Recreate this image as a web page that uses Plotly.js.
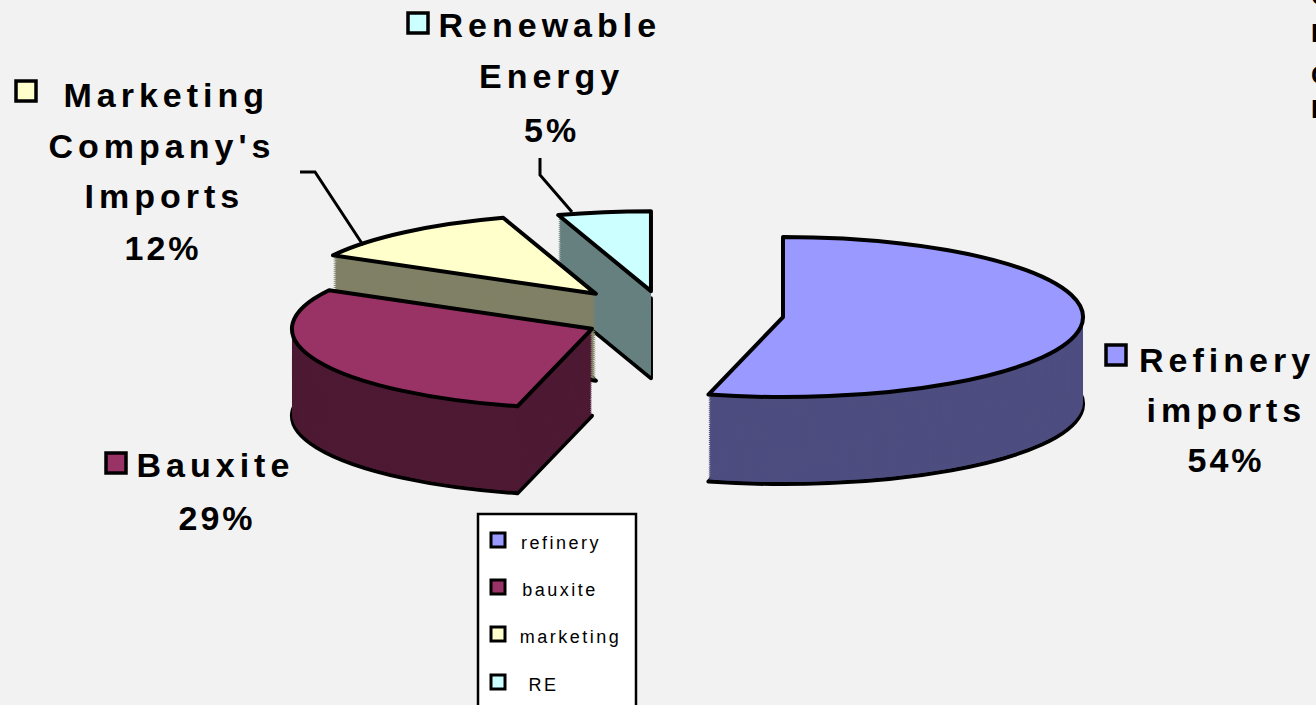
<!DOCTYPE html>
<html><head><meta charset="utf-8">
<script src="https://cdn.plot.ly/plotly-3.0.1.min.js"></script>
<style>html,body{margin:0;padding:0;background:#f2f2f2;overflow:hidden}#chart{width:1316px;height:705px;}</style>
</head><body><div id="chart"></div>
<script>
// ---- data ----
const categories = ['refinery', 'bauxite', 'marketing', 'RE'];
const values = [54, 29, 12, 5];
const labelLines = [['Refinery', 'imports'], ['Bauxite'], ['Marketing', "Company's", 'Imports'], ['Renewable', 'Energy']];
const topColors = ['#9999FF', '#993366', '#FFFFCC', '#CCFFFF'];
const sideColors = ['#4D4D80', '#4D1933', '#808066', '#668080'];
const pulls = [0.504, 0.12, 0.1, 0.15];
const cutLetters = ['C', 'B', 'C', 'R'];

// ---- layout constants (pixels) ----
const W = 1316, H = 705;
const PIE = {cx: 630, cy: 305, rx: 300, ry: 80, depth: 87, layers: 44, line: 4};
// extra perspective nudge of each exploded slice (final pixels)
const sliceShift = [[3, 7], [-5, 20], [-15, -5], [28, -2]];
const labelPos = [
  {x: [1227, 1226, 1226], base: [372, 422, 472], key: [1105, 344]},
  {x: [215, 217], base: [477, 530], key: [105, 452]},
  {x: [166, 162, 164, 163], base: [107, 158, 208, 260], key: [15, 80]},
  {x: [550, 551, 551], base: [37, 88, 142], key: [407, 12]}
];
const cutPos = {x: 1309, y: [-4, 33, 75, 109]};
const legendBox = {x0: 478, y0: 514, x1: 636, y1: 720, keyX: 491, textX: 529, rowY: [540, 587, 634, 682]};

const px = v => v / W, py = v => 1 - v / H;
const FONT = 'Liberation Sans, Arial, sans-serif';

const total = values.reduce((a, b) => a + b, 0);
const pct = values.map(v => Math.round(v / total * 100) + '%');

// ---- traces: stacked pies for 3D depth ----
const traces = [];
for (let k = 0; k < PIE.layers; k++) {
  const isTop = k === PIE.layers - 1, isBottom = k === 0;
  traces.push({
    type: 'pie', values: values, labels: categories, sort: false,
    direction: 'clockwise', rotation: 0, pull: pulls,
    textinfo: 'none', hoverinfo: 'none', showlegend: false,
    domain: {x: [0, 1], y: [0, 1]},
    marker: {colors: isTop ? topColors : sideColors,
             line: {color: '#000000', width: (isTop || isBottom) ? PIE.line : 0}}
  });
}

// ---- annotations & shapes ----
const annotations = [];
const spacing = [];
const shapes = [];
categories.forEach((c, i) => {
  const lines = labelLines[i].concat([pct[i]]);
  const pos = labelPos[i];
  lines.forEach((t, j) => {
    annotations.push({text: '<b>' + t + '</b>', x: px(pos.x[j]), y: py(pos.base[j] - 12),
      xref: 'paper', yref: 'paper', xanchor: 'center', yanchor: 'middle', showarrow: false,
      font: {family: FONT, size: 34, color: '#000'}});
    spacing.push(j === lines.length - 1 ? 3 : 5);
  });
  shapes.push({type: 'rect', xref: 'paper', yref: 'paper',
    x0: px(pos.key[0] + 1), x1: px(pos.key[0] + 21), y0: py(pos.key[1] + 1), y1: py(pos.key[1] + 21),
    fillcolor: topColors[i], line: {color: '#000', width: 3.5}, layer: 'above'});
});
cutLetters.forEach((t, i) => {
  annotations.push({text: '<b>' + t + '</b>', x: px(cutPos.x), y: py(cutPos.y[i]),
    xref: 'paper', yref: 'paper', xanchor: 'left', yanchor: 'middle', showarrow: false,
    font: {family: FONT, size: 26, color: '#000'}});
  spacing.push(0);
});
// legend
shapes.push({type: 'rect', xref: 'paper', yref: 'paper', x0: px(legendBox.x0), x1: px(legendBox.x1),
  y0: py(legendBox.y0), y1: py(legendBox.y1), fillcolor: '#ffffff', line: {color: '#000', width: 2.5}, layer: 'above'});
categories.forEach((c, i) => {
  const yc = legendBox.rowY[i];
  shapes.push({type: 'rect', xref: 'paper', yref: 'paper', x0: px(legendBox.keyX), x1: px(legendBox.keyX + 14),
    y0: py(yc - 7), y1: py(yc + 7), fillcolor: topColors[i], line: {color: '#000', width: 3}, layer: 'above'});
  annotations.push({text: c, x: px(legendBox.textX), y: py(yc + 3), xref: 'paper', yref: 'paper',
    xanchor: 'left', yanchor: 'middle', showarrow: false, font: {family: FONT, size: 18, color: '#000'}});
  spacing.push(2.5);
});
// leader lines
shapes.push({type: 'path', xref: 'paper', yref: 'paper', layer: 'above',
  path: `M${px(300)},${py(172)} L${px(315)},${py(172)} L${px(363)},${py(245)}`, line: {color: '#000', width: 3}});
shapes.push({type: 'path', xref: 'paper', yref: 'paper', layer: 'above',
  path: `M${px(540)},${py(158)} L${px(540)},${py(175)} L${px(572)},${py(212)}`, line: {color: '#000', width: 3}});

const layout = {
  width: W, height: H, margin: {l: 0, r: 0, t: 0, b: 0},
  paper_bgcolor: '#f2f2f2', plot_bgcolor: '#f2f2f2', showlegend: false, hovermode: false,
  annotations: annotations, shapes: shapes
};

Plotly.newPlot('chart', traces, layout, {staticPlot: true, displayModeBar: false}).then(gd => {
  const groups = gd.querySelectorAll('.pielayer g.trace');
  groups.forEach((g, k) => {
    const cd0 = gd.calcdata[k][0];
    const r = cd0.r, cx = (cd0.cx !== undefined ? cd0.cx : W / 2), cy = (cd0.cy !== undefined ? cd0.cy : H / 2);
    const sx = PIE.rx / r, sy = PIE.ry / r;
    const d = PIE.depth * (1 - k / (PIE.layers - 1));
    const prev = g.getAttribute('transform') || '';
    g.setAttribute('transform', `translate(${PIE.cx},${PIE.cy + d}) scale(${sx},${sy}) translate(${-cx},${-cy}) ${prev}`);
    g.querySelectorAll('g.slice').forEach((s, i) => {
      const sh = sliceShift[i] || [0, 0];
      const p0 = s.getAttribute('transform') || '';
      s.setAttribute('transform', `translate(${sh[0] / sx},${sh[1] / sy}) ${p0}`);
    });
    g.querySelectorAll('path').forEach(p => {
      p.setAttribute('vector-effect', 'non-scaling-stroke');
      p.style.strokeLinejoin = 'round';
    });
  });
  gd.querySelectorAll('.annotation-text').forEach((t, i) => {
    if (spacing[i]) t.style.letterSpacing = spacing[i] + 'px';
  });
});
</script>
</body></html>
